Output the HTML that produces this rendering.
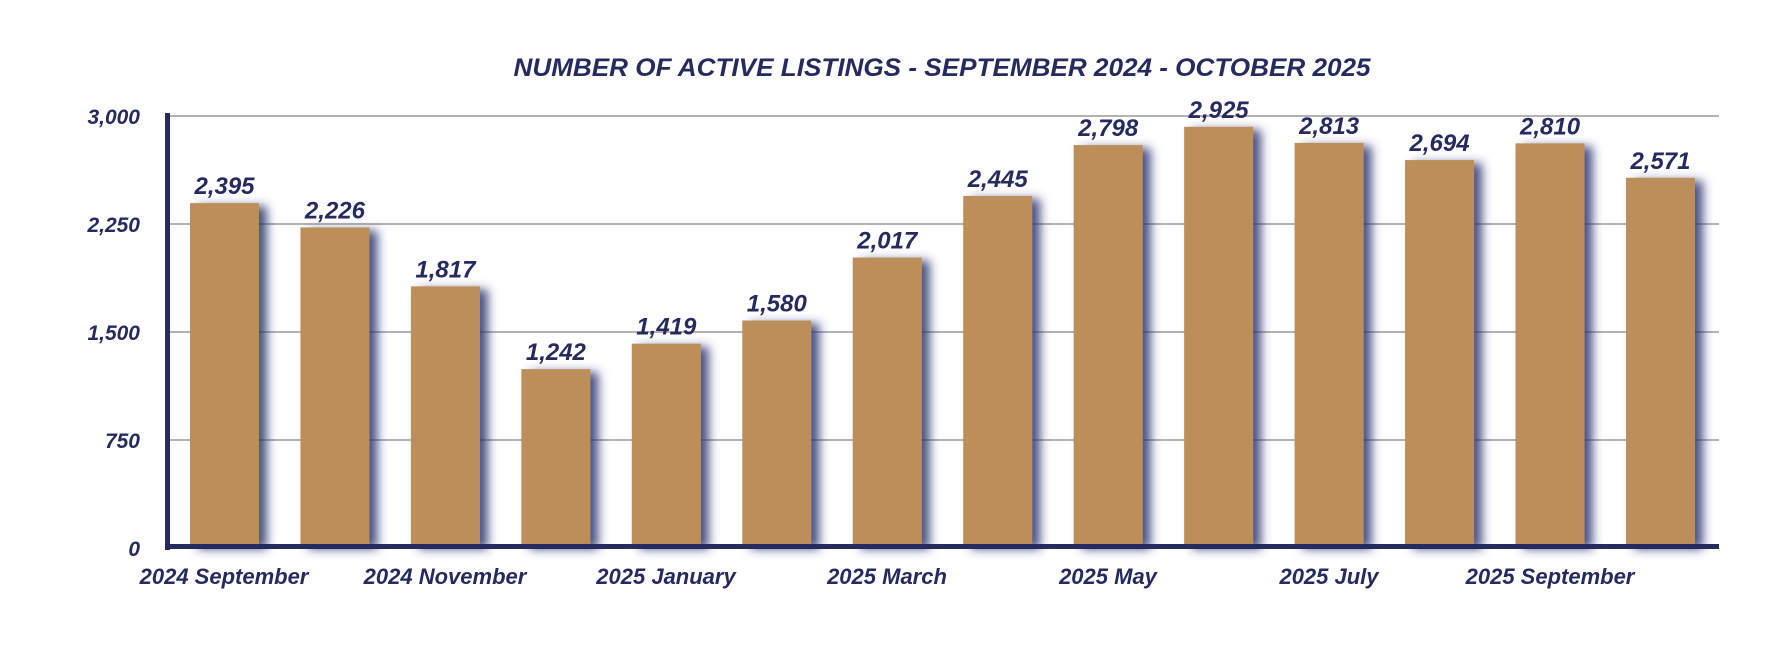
<!DOCTYPE html>
<html><head><meta charset="utf-8"><style>
html,body{margin:0;padding:0;background:#fff;}
svg{display:block}
text{font-family:"Liberation Sans",sans-serif;font-weight:bold;font-style:italic;fill:#252B5E}
</style></head><body>
<svg width="1790" height="658" viewBox="0 0 1790 658" xmlns="http://www.w3.org/2000/svg">
<defs>
<filter id="sh" x="-30%" y="-10%" width="160%" height="130%">
<feGaussianBlur in="SourceAlpha" stdDeviation="5"/>
<feOffset dx="8" dy="3" result="b"/>
<feFlood flood-color="#2a3270" flood-opacity="0.85"/>
<feComposite in2="b" operator="in"/>
<feMerge><feMergeNode/><feMergeNode in="SourceGraphic"/></feMerge>
</filter>
</defs>
<text x="942" y="76" font-size="25" text-anchor="middle" textLength="857" lengthAdjust="spacingAndGlyphs">NUMBER OF ACTIVE LISTINGS - SEPTEMBER 2024 - OCTOBER 2025</text>
<g stroke="#b3b3b3" stroke-width="2">
<line x1="167" x2="1719" y1="116" y2="116"/>
<line x1="167" x2="1719" y1="224" y2="224"/>
<line x1="167" x2="1719" y1="332" y2="332"/>
<line x1="167" x2="1719" y1="440" y2="440"/>
</g>
<g font-size="21" text-anchor="end">
<text x="140" y="124">3,000</text>
<text x="140" y="232">2,250</text>
<text x="140" y="340">1,500</text>
<text x="140" y="448">750</text>
<text x="140" y="556">0</text>
</g>
<g id="bars" fill="#BC8F5A" filter="url(#sh)"></g>
<g id="vals" font-size="24" text-anchor="middle"></g>
<rect x="165" y="113" width="5" height="437" fill="#252B5E"/>
<rect x="165" y="544" width="1554" height="5" fill="#252B5E"/>
<g font-size="22" text-anchor="middle">
<text x="224" y="584">2024 September</text>
<text x="445" y="584">2024 November</text>
<text x="666" y="584">2025 January</text>
<text x="887" y="584">2025 March</text>
<text x="1108" y="584">2025 May</text>
<text x="1329" y="584">2025 July</text>
<text x="1550" y="584">2025 September</text>
</g>
<script>
var v=[2395,2226,1817,1242,1419,1580,2017,2445,2798,2925,2813,2694,2810,2571];
var b=document.getElementById('bars'),t=document.getElementById('vals'),ns="http://www.w3.org/2000/svg";
v.forEach(function(d,i){var x=190+i*110.46,h=d/3000*432,y=548-h;
var r=document.createElementNS(ns,'rect');r.setAttribute('x',x);r.setAttribute('y',y);r.setAttribute('width',69);r.setAttribute('height',h-2);b.appendChild(r);
var s=document.createElementNS(ns,'text');s.setAttribute('x',x+34.5);s.setAttribute('y',y-9);s.textContent=d.toLocaleString('en-US');t.appendChild(s);});
</script>
</svg>
</body></html>
